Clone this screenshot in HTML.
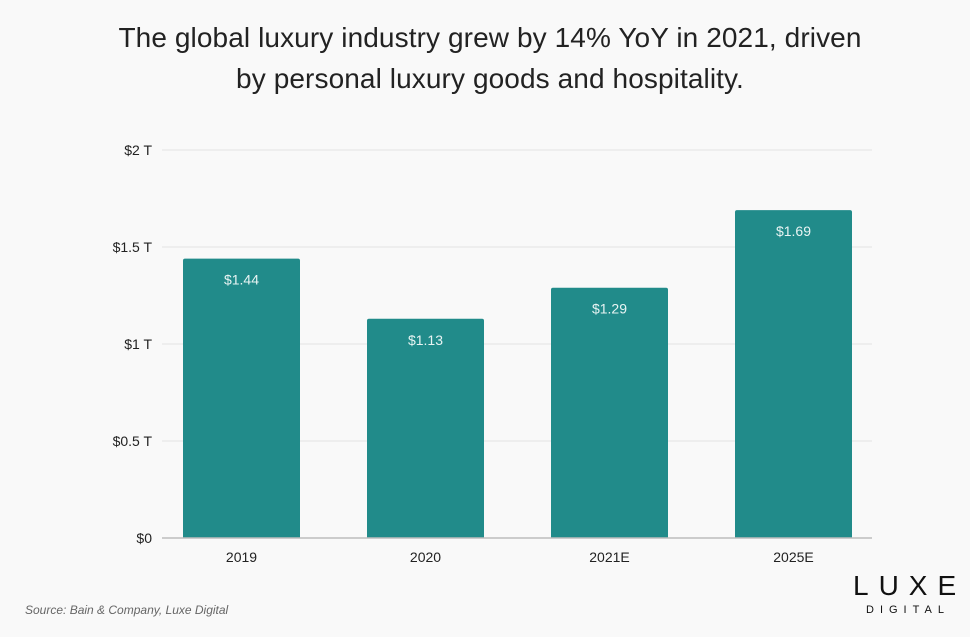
<!DOCTYPE html>
<html><head><meta charset="utf-8"><style>
body{margin:0;background:#f9f9f9;font-family:"Liberation Sans",sans-serif;}
#wrap{position:relative;width:970px;height:637px;overflow:hidden;background:#f9f9f9}
h1{position:absolute;top:17px;left:0;width:980px;margin:0;text-align:center;font-weight:normal;font-size:28px;line-height:41px;color:#222;letter-spacing:0.1px}
.src{position:absolute;left:25px;top:603px;font-size:12px;font-style:italic;color:#666}
.logo{position:absolute;left:853px;top:570px;width:110px;text-align:center;color:#111}
.logo .a{font-size:28px;letter-spacing:10px;line-height:32px}
.logo .b{font-size:11px;letter-spacing:6px;margin-top:2px}
</style></head><body>
<div id="wrap">
<h1>The global luxury industry grew by 14% YoY in 2021, driven<br>by personal luxury goods and hospitality.</h1>
<svg id="chart" width="970" height="637" style="position:absolute;left:0;top:0"></svg>
<div class="src">Source: Bain &amp; Company, Luxe Digital</div>
<div class="logo"><div class="a">LUXE</div><div class="b">DIGITAL</div></div>
</div>
<script>
const categories=["2019","2020","2021E","2025E"];
const values=[1.44,1.13,1.29,1.69];
const valueLabels=["$1.44","$1.13","$1.29","$1.69"];
const tickValues=[0,0.5,1,1.5,2];
const tickLabels=["$0","$0.5 T","$1 T","$1.5 T","$2 T"];
const svg=document.getElementById('chart');
const NS='http://www.w3.org/2000/svg';
const y0=538,yTop=150,xL=162,xR=872,bandStart=149.5,band=184,barW=117;
const y=v=>y0-(v/2)*(y0-yTop);
const x=i=>bandStart+band*i+(band-barW)/2;
function mk(t,a){const e=document.createElementNS(NS,t);for(const k in a)e.setAttribute(k,a[k]);svg.appendChild(e);return e;}
tickValues.forEach((v,i)=>{
  if(v>0){const l=mk('line',{x1:xL,x2:xR,y1:y(v),y2:y(v),stroke:'#e2e2e2','stroke-width':1});
  
  }
  const t=mk('text',{x:152,y:y(v)+5,'text-anchor':'end','font-size':14,fill:'#222','font-family':'Liberation Sans'});
  t.textContent=tickLabels[i];
  
  
});
values.forEach((v,i)=>{
  const r=mk('path',{d:`M${x(i)},${y0} V${y(v)+2} Q${x(i)},${y(v)} ${x(i)+2},${y(v)} H${x(i)+barW-2} Q${x(i)+barW},${y(v)} ${x(i)+barW},${y(v)+2} V${y0} Z`,fill:'#218b8a'});
  
  
  const t=mk('text',{x:x(i)+barW/2,y:y(v)+26,'text-anchor':'middle','font-size':14,fill:'#e8f4f3','font-family':'Liberation Sans'});
  t.textContent=valueLabels[i];
  
  
  const c=mk('text',{x:x(i)+barW/2,y:y0+24,'text-anchor':'middle','font-size':14,fill:'#222','font-family':'Liberation Sans'});
  c.textContent=categories[i];
  
  
});
const ax=mk('line',{x1:xL,x2:xR,y1:y0,y2:y0,stroke:'#bdbdbd','stroke-width':1.5});


</script>
</body></html>
